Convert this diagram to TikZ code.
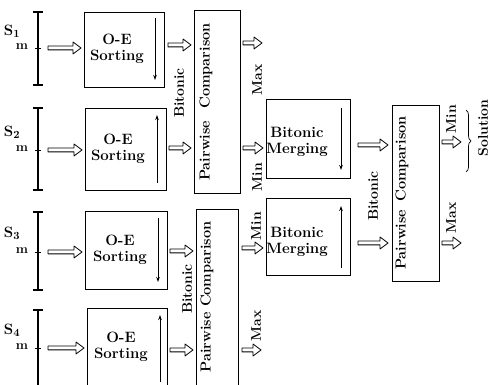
\documentclass[tikz,border=0pt]{standalone}
\usetikzlibrary{arrows.meta,decorations.pathreplacing,calc}
\begin{document}
\begin{tikzpicture}[x=1pt,y=-1pt,
  box/.style={draw, line width=0.9pt, inner sep=0pt, anchor=north west},
  lbl/.style={font=\fontsize{15}{16.5}\selectfont\bfseries, align=center, inner sep=0pt},
  vlbl/.style={font=\fontsize{14}{15}\selectfont\bfseries, rotate=90, inner sep=0pt},
  pclbl/.style={font=\fontsize{14.5}{15}\selectfont\bfseries, rotate=90, inner sep=0pt},
  slbl/.style={font=\fontsize{15}{16}\selectfont\bfseries, inner sep=0pt},
  hol/.style={line width=0.8pt, line join=round,
    to path={let \p1=(\tikztostart), \p2=(\tikztotarget) in
      (\x1,\y1+1.9pt) -- (\x2-8pt,\y1+1.9pt) -- (\x2-8pt,\y1+6pt) -- (\x2,\y1)
      -- (\x2-8pt,\y1-6pt) -- (\x2-8pt,\y1-1.9pt) -- (\x1,\y1-1.9pt) -- cycle}},
  inarr/.style={line width=0.9pt, -{Stealth[length=5pt,width=3.5pt]}},
  brk/.style={line width=1.1pt},
]
\useasboundingbox (0,0) rectangle (491,385);
\clip (0,0) rectangle (491,385);

% brackets
\foreach \t/\b/\m/\i in {12/85/48/1, 108/190/150/2, 212/290/252/3, 310/400/348/4}{
  \draw[brk] (33,\t) -- (43,\t) (38,\t) -- (38,\b) (33,\b) -- (43,\b);
  \draw[line width=0.7pt] (35,\m) -- (41,\m);
  \coordinate (b\i) at (48,\m);
}
\node[slbl] (s1) at (12,31) {S$_{\mathbf 1}$};
\node[slbl] (s2) at (12,132) {S$_{\mathbf 2}$};
\node[slbl] (s3) at (12,233) {S$_{\mathbf 3}$};
\node[slbl] (s4) at (12,330) {S$_{\mathbf 4}$};
\foreach \m/\i in {48/1,150/2,252/3,348/4}{
  \node[font=\fontsize{13}{14}\selectfont\bfseries, inner sep=0pt] (m\i) at (22,\m-1) {m};
}

% O-E sorting boxes
\node[box, minimum width=80pt, minimum height=75pt] (oe1) at (84,12) {};
\node[box, minimum width=81pt, minimum height=82pt] (oe2) at (85,108) {};
\node[box, minimum width=82pt, minimum height=78pt] (oe3) at (85,211) {};
\node[box, minimum width=80pt, minimum height=90pt] (oe4) at (87,308) {};
\node[lbl] (t1) at (117,49) {O-E\\Sorting};
\node[lbl] (t2) at (118,149) {O-E\\Sorting};
\node[lbl] (t3) at (120,250) {O-E\\Sorting};
\node[lbl] (t4) at (121,347) {O-E\\Sorting};
\draw[inarr] (155,18) -- (155,80);
\draw[inarr] (157,183) -- (157,115);
\draw[inarr] (158,218) -- (158,282);
\draw[inarr] (160,382) -- (160,315);

% inputs
\draw[hol] (b1) to ([xshift=-3pt]oe1.west |- b1);
\draw[hol] (b2) to ([xshift=-3pt]oe2.west |- b2);
\draw[hol] (b3) to ([xshift=-3pt]oe3.west |- b3);
\draw[hol] (b4) to ([xshift=-3pt]oe4.west |- b4);

% pairwise comparison 1,2
\node[box, minimum width=46pt, minimum height=183pt] (pc1) at (194,10) {};
\node[box, minimum width=42pt, minimum height=180pt] (pc2) at (196,209) {};
\node[pclbl] (pc1t) at (206,102) {Pairwise\hspace{12pt}Comparison};
\node[pclbl] (pc2t) at (207,297) {Pairwise Comparison};

\coordinate (o1) at (168,45);
\coordinate (o2) at (169,148);
\coordinate (o3) at (170,251);
\coordinate (o4) at (170,350);
\draw[hol] (o1) to ([xshift=-3pt]pc1.west |- o1);
\draw[hol] (o2) to ([xshift=-3pt]pc1.west |- o2);
\draw[hol] (o3) to ([xshift=-3pt]pc2.west |- o3);
\draw[hol] (o4) to ([xshift=-3pt]pc2.west |- o4);
\node[vlbl] (bit1) at (179,93) {Bitonic};
\node[vlbl] (bit2) at (187,289) {Bitonic};

% bitonic merging
\node[box, minimum width=84pt, minimum height=79pt] (bm1) at (266,99) {};
\node[box, minimum width=84pt, minimum height=77pt] (bm2) at (266,198) {};
\node[lbl] (bm1t) at (297,142) {Bitonic\\Merging};
\node[lbl] (bm2t) at (297,242) {Bitonic\\Merging};
\draw[inarr] (341,108) -- (341,170);
\draw[inarr] (341,268) -- (341,206);

\coordinate (p1a) at (243,43);
\coordinate (p1a2) at (262,43);
\coordinate (p1b) at (243,148);
\coordinate (p2a) at (242,248);
\coordinate (p2b) at (242,350);
\coordinate (p2b2) at (261,350);
\draw[hol] (p1a) to (p1a2);
\draw[hol] (p1b) to ([xshift=-3pt]bm1.west |- p1b);
\draw[hol] (p2a) to ([xshift=-3pt]bm2.west |- p2a);
\draw[hol] (p2b) to (p2b2);
\node[vlbl] (mx1) at (257,80) {Max};
\node[vlbl] (mn1) at (257,177) {Min};
\node[vlbl] (mn2) at (256,226) {Min};
\node[vlbl] (mx2) at (256,326) {Max};

% final pairwise comparison
\node[box, minimum width=47pt, minimum height=176pt] (pc3) at (392,105) {};
\node[pclbl] (pc3t) at (402,193) {Pairwise\hspace{8pt}Comparison};
\coordinate (q1) at (358,145);
\coordinate (q2) at (358,243);
\draw[hol] (q1) to ([xshift=-4pt]pc3.west |- q1);
\draw[hol] (q2) to ([xshift=-4pt]pc3.west |- q2);
\node[vlbl] (bit3) at (373,196) {Bitonic};

\coordinate (f1) at (442,142);
\coordinate (f1e) at (461,142);
\coordinate (f2) at (442,243);
\coordinate (f2e) at (461,243);
\draw[hol] (f1) to (f1e);
\draw[hol] (f2) to (f2e);
\node[vlbl] (mn3) at (451,119) {Min};
\node[vlbl] (mx3) at (451,218) {Max};
\coordinate (br1) at (466,110);
\coordinate (br2) at (466,172);
\draw[line width=0.7pt, decorate, decoration={brace, amplitude=5pt}] (br1) -- (br2);
\node[vlbl] (sol) at (483,128) {Solution};
\end{tikzpicture}
\end{document}
